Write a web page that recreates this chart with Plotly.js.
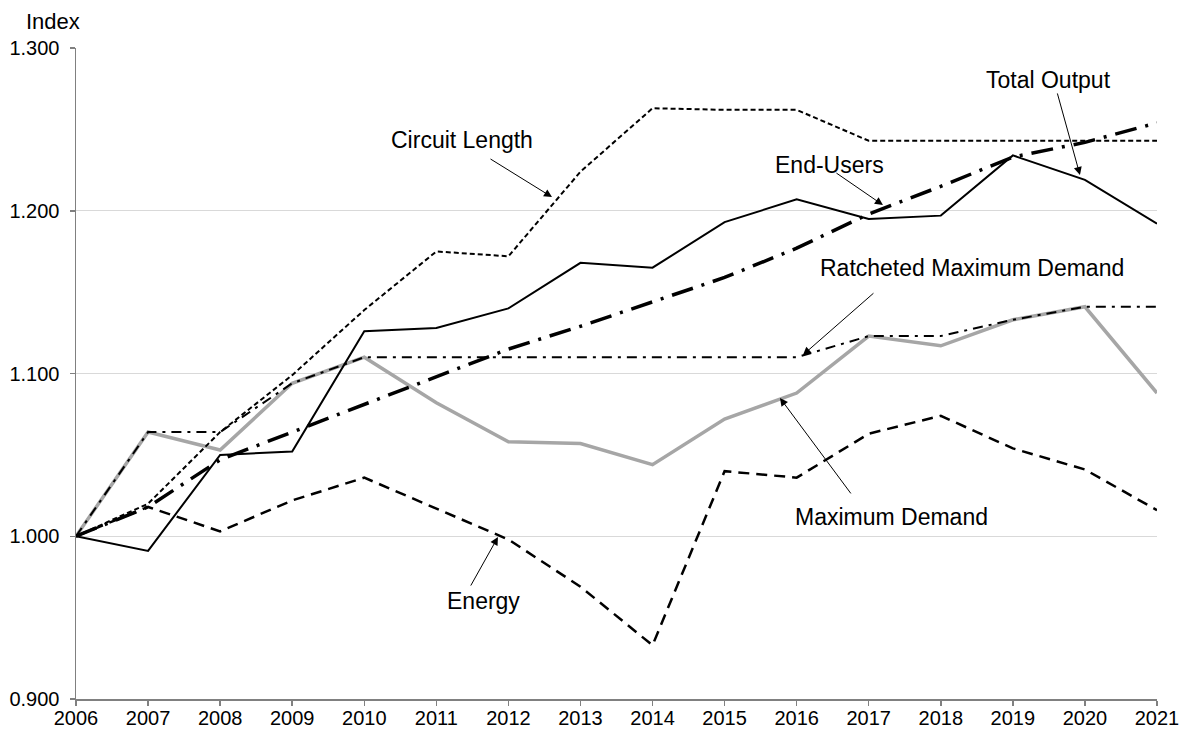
<!DOCTYPE html>
<html>
<head>
<meta charset="utf-8">
<script src="https://cdn.plot.ly/plotly-3.0.1.min.js"></script>
<style>
  html, body { margin: 0; padding: 0; background: #ffffff; }
  #chart { width: 1182px; height: 729px; }
</style>
</head>
<body>
<div id="chart"></div>
<script>
const years = [2006, 2007, 2008, 2009, 2010, 2011, 2012, 2013, 2014, 2015, 2016, 2017, 2018, 2019, 2020, 2021];

const totalOutput       = [1.000, 1.018, 1.047, 1.064, 1.081, 1.098, 1.115, 1.129, 1.144, 1.159, 1.177, 1.198, 1.215, 1.233, 1.242, 1.254];
const circuitLength     = [1.000, 1.020, 1.064, 1.099, 1.139, 1.175, 1.172, 1.224, 1.263, 1.262, 1.262, 1.243, 1.243, 1.243, 1.243, 1.243];
const endUsers          = [1.000, 0.991, 1.050, 1.052, 1.126, 1.128, 1.140, 1.168, 1.165, 1.193, 1.207, 1.195, 1.197, 1.234, 1.219, 1.192];
const ratchetedMaxDem   = [1.000, 1.064, 1.064, 1.094, 1.110, 1.110, 1.110, 1.110, 1.110, 1.110, 1.110, 1.123, 1.123, 1.133, 1.141, 1.141];
const maximumDemand     = [1.000, 1.064, 1.053, 1.094, 1.110, 1.082, 1.058, 1.057, 1.044, 1.072, 1.088, 1.123, 1.117, 1.133, 1.141, 1.088];
const energy            = [1.000, 1.018, 1.003, 1.022, 1.036, 1.017, 0.998, 0.969, 0.933, 1.040, 1.036, 1.063, 1.074, 1.054, 1.041, 1.016];

const yTicks = [0.9, 1.0, 1.1, 1.2, 1.3];
const yTickText = ['0.900', '1.000', '1.100', '1.200', '1.300'];
const xTicks = years;

const FONT = 'Liberation Sans, Arial, Helvetica, sans-serif';

const traces = [
  { name: 'Maximum Demand', x: years, y: maximumDemand, mode: 'lines',
    line: { color: '#a6a6a6', width: 3.5 } },
  { name: 'Energy', x: years, y: energy, mode: 'lines',
    line: { color: '#000000', width: 2.5, dash: '11px,7px' } },
  { name: 'Circuit Length', x: years, y: circuitLength, mode: 'lines',
    line: { color: '#000000', width: 2, dash: '5px,3px' } },
  { name: 'Ratcheted Maximum Demand', x: years, y: ratchetedMaxDem, mode: 'lines',
    line: { color: '#000000', width: 2, dash: '10px,6px,3px,6px' } },
  { name: 'End-Users', x: years, y: endUsers, mode: 'lines',
    line: { color: '#000000', width: 2 } },
  { name: 'Total Output', x: years, y: totalOutput, mode: 'lines',
    line: { color: '#000000', width: 3.5, dash: '22px,9px,3px,9px' } }
];

function label(text, x, y) {
  return { text: text, x: x, y: y, xref: 'x', yref: 'y', showarrow: false,
           xanchor: 'center', yanchor: 'middle',
           font: { family: FONT, size: 23, color: '#000000' } };
}
function arrow(x, y, ax, ay) {
  return { text: '', x: x, y: y, xref: 'x', yref: 'y', ax: ax, ay: ay,
           showarrow: true, arrowhead: 2, arrowsize: 1.6, arrowwidth: 1,
           arrowcolor: '#000000', standoff: 0, startstandoff: 0 };
}

const annotations = [
  { text: 'Index', xref: 'paper', yref: 'paper', x: -0.021, y: 1.04,
    xanchor: 'center', yanchor: 'middle', showarrow: false,
    font: { family: FONT, size: 22, color: '#000000' } },
  label('Circuit Length', 2011.36, 1.2435),
  label('End-Users', 2016.45, 1.2281),
  label('Total Output', 2019.50, 1.2803),
  label('Ratcheted Maximum Demand', 2018.43, 1.1648),
  label('Maximum Demand', 2017.31, 1.0118),
  label('Energy', 2011.66, 0.9602),
  arrow(2012.605, 1.2084, -63, -39),
  arrow(2017.197, 1.2035, -48, -33),
  arrow(2019.931, 1.2220, -23, -83),
  arrow(2016.087, 1.1114, 72, -63),
  arrow(2015.768, 1.0850, 72, 97),
  arrow(2011.855, 0.9995, -28, 50)
];

const layout = {
  width: 1182, height: 729,
  margin: { l: 76, r: 25, t: 48, b: 30 },
  paper_bgcolor: '#ffffff', plot_bgcolor: '#ffffff',
  showlegend: false,
  font: { family: FONT, size: 20, color: '#000000' },
  xaxis: {
    range: [2006, 2021], tickvals: xTicks, ticktext: xTicks.map(String),
    showgrid: false, zeroline: false,
    showline: true, linecolor: '#808080', linewidth: 1.5,
    ticks: 'outside', ticklen: 5, tickcolor: '#808080', tickwidth: 1.5,
    ticklabelstandoff: -5,
    tickfont: { family: FONT, size: 20, color: '#000000' }
  },
  yaxis: {
    range: [0.9, 1.3], tickvals: yTicks, ticktext: yTickText,
    showgrid: true, gridcolor: '#d9d9d9', gridwidth: 1, zeroline: false,
    showline: true, linecolor: '#808080', linewidth: 1.5,
    ticks: 'outside', ticklen: 5, tickcolor: '#808080', tickwidth: 1.5,
    ticklabelstandoff: 6,
    tickfont: { family: FONT, size: 20, color: '#000000' }
  },
  annotations: annotations
};

Plotly.newPlot('chart', traces, layout, { displayModeBar: false, staticPlot: true });
</script>
</body>
</html>
